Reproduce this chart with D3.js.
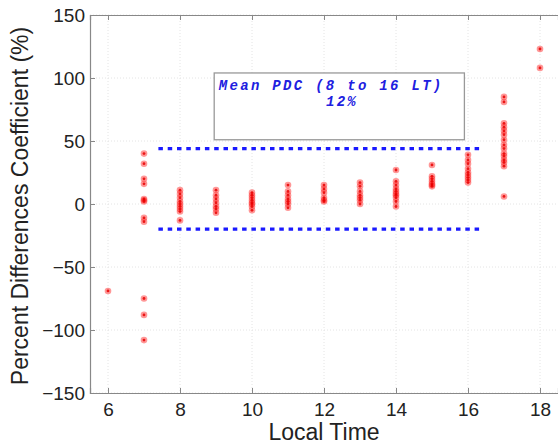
<!DOCTYPE html>
<html>
<head>
<meta charset="utf-8">
<script src="https://cdn.jsdelivr.net/npm/d3@7"></script>
<style>
  body { margin: 0; background: #fff; }
</style>
</head>
<body>
<svg width="558" height="446"></svg>
<script>
// local time columns and their percent difference values
var hours = [6, 7, 8, 9, 10, 11, 12, 13, 14, 15, 16, 17, 18];
var pdc = [
  [-69],
  [40, 32, 20, 16, 4, 3, 2, -11, -14, -75, -88, -108],
  [11, 8, 5, 2, 0, -2, -4, -6, -13],
  [11, 7, 4, 1, -2, -4, -7],
  [9, 7, 5, 3, 1, 0, -2, -5],
  [15, 10, 7, 4, 2, 0, -3],
  [15, 12, 9, 5, 3, 2],
  [17, 14, 10, 7, 5, 3, 0],
  [27, 18, 15, 12, 10, 8, 7, 5, 2, -2],
  [31, 22, 20, 18, 16, 15, 14],
  [39, 35, 32, 28, 25, 23, 21, 19, 17],
  [85, 81, 64, 61, 58, 55, 51, 47, 44, 40, 38, 35, 33, 30, 6],
  [123, 108]
];
var xTicks = [6, 8, 10, 12, 14, 16, 18];
var yTicks = [-150, -100, -50, 0, 50, 100, 150];
var meanRange = [7.4, 16.4];
var bandLimits = [44, -20];
var noteLines = ["Mean PDC (8 to 16 LT)", "12%"];

var sans = "'Liberation Sans', Arial, sans-serif";
var svg = d3.select("svg"),
    margin = {top: 15, right: 0, bottom: 53, left: 90},
    width = svg.attr("width") - margin.left - margin.right,
    height = svg.attr("height") - margin.top - margin.bottom;

var x = d3.scaleLinear().domain([5.5, 18.5]).range([0, width]);
var y = d3.scaleLinear().domain([-150, 150]).range([height, 0]);

var g = svg.append("g")
    .attr("transform", "translate(" + margin.left + "," + margin.top + ")");

// dotted grid
g.append("g").selectAll("line").data(xTicks).enter().append("line")
    .attr("x1", function(d) { return x(d); }).attr("x2", function(d) { return x(d); })
    .attr("y1", 0).attr("y2", height)
    .attr("stroke", "#e4e4e4").attr("stroke-dasharray", "1,2");
g.append("g").selectAll("line").data(yTicks).enter().append("line")
    .attr("x1", 0).attr("x2", width)
    .attr("y1", function(d) { return y(d); }).attr("y2", function(d) { return y(d); })
    .attr("stroke", "#e4e4e4").attr("stroke-dasharray", "1,2");

// axes
var xb = g.append("g").attr("transform", "translate(0," + height + ")")
    .call(d3.axisBottom(x).tickValues(xTicks).tickSize(-5).tickPadding(10));
var xt = g.append("g")
    .call(d3.axisTop(x).tickValues(xTicks).tickSize(-5).tickFormat(""));
var yl = g.append("g")
    .call(d3.axisLeft(y).tickValues(yTicks).tickSize(-5).tickPadding(5)
      .tickFormat(function(d) { return d < 0 ? "\u2212" + (-d) : d; }));
[xb, xt, yl].forEach(function(a) {
  a.select(".domain").attr("stroke", "#888").attr("stroke-width", 1.2);
  a.selectAll(".tick line").attr("stroke", "#888");
  a.selectAll("text").attr("font-size", 19).attr("fill", "#222")
    .attr("font-family", sans);
});

// mean band lines
g.append("g").selectAll("line").data(bandLimits).enter().append("line")
    .attr("x1", x(meanRange[0])).attr("x2", x(meanRange[1]))
    .attr("y1", function(d) { return y(d); }).attr("y2", function(d) { return y(d); })
    .attr("stroke", "#1a1aff").attr("stroke-width", 3.2)
    .attr("stroke-dasharray", "4.5,4.8");

// points
var pts = [];
hours.forEach(function(h, i) {
  pdc[i].forEach(function(v) { pts.push({h: h, v: v}); });
});
g.append("g").selectAll("circle").data(pts).enter().append("circle")
    .attr("cx", function(d) { return x(d.h); })
    .attr("cy", function(d) { return y(d.v); })
    .attr("r", 3.3)
    .attr("fill", "#ff3030").attr("fill-opacity", 0.5);
g.append("g").selectAll("circle").data(pts).enter().append("circle")
    .attr("cx", function(d) { return x(d.h); })
    .attr("cy", function(d) { return y(d.v); })
    .attr("r", 1.4)
    .attr("fill", "#e80000").attr("fill-opacity", 0.85);

// annotation box
g.append("rect")
    .attr("x", x(8.95)).attr("y", y(104))
    .attr("width", x(15.9) - x(8.95)).attr("height", y(51) - y(104))
    .attr("fill", "#fff").attr("stroke", "#999").attr("stroke-width", 1.3);
g.append("g").selectAll("text").data(noteLines).enter().append("text")
    .attr("x", function(d, i) { return i ? x(12.5) : x(12.2); })
    .attr("y", function(d, i) { return y(90.5) + i * 16; })
    .attr("text-anchor", "middle")
    .attr("font-family", "'Liberation Mono', 'Courier New', monospace")
    .attr("font-weight", "bold").attr("font-style", "italic")
    .attr("font-size", 14).attr("letter-spacing", 2.3).attr("fill", "#2020e0")
    .text(function(d) { return d; });

// axis titles
svg.append("text")
    .attr("x", margin.left + x(12)).attr("y", 440)
    .attr("text-anchor", "middle").attr("font-size", 23).attr("fill", "#222")
    .attr("font-family", sans)
    .text("Local Time");
svg.append("text")
    .attr("transform", "translate(28," + (margin.top + height / 2 + 2) + ") rotate(-90)")
    .attr("text-anchor", "middle").attr("font-size", 23).attr("fill", "#222")
    .attr("font-family", sans)
    .text("Percent Differences Coefficient (%)");
</script>
</body>
</html>
